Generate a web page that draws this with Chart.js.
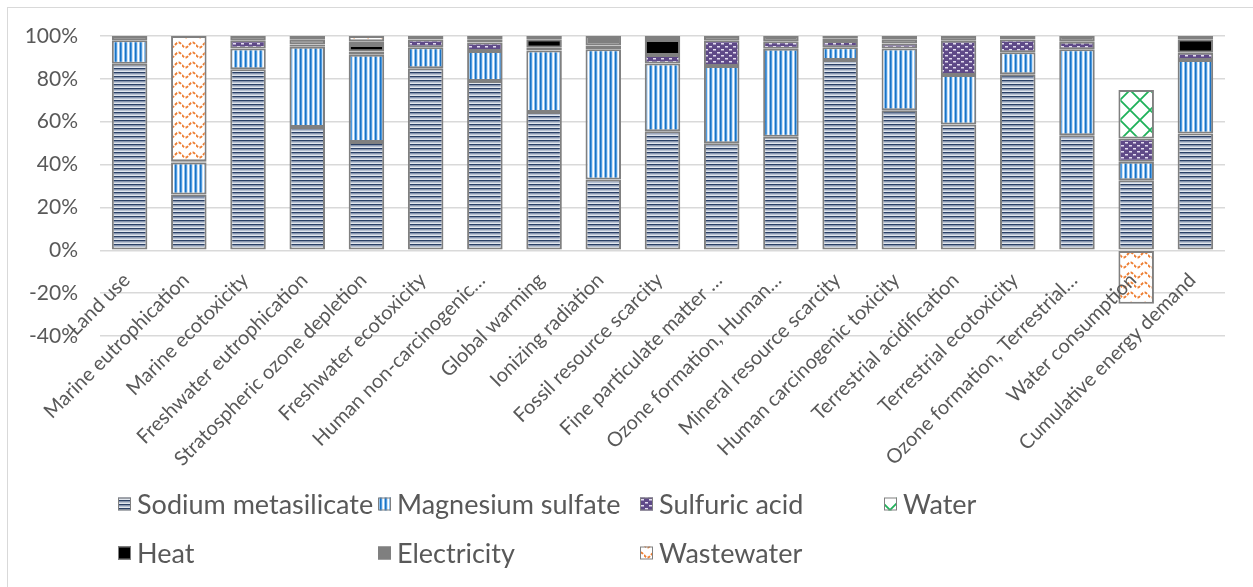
<!DOCTYPE html>
<html>
<head>
<meta charset="utf-8">
<script src="https://cdn.jsdelivr.net/npm/chart.js@4.4.1/dist/chart.umd.min.js"></script>
<style>
  html, body { margin: 0; padding: 0; background: #fff; overflow: hidden; }
  #wrap { width: 1253px; height: 587px; }
</style>
</head>
<body>
<div id="wrap"><canvas id="chart" width="1253" height="587"></canvas></div>
<script>
const categories = [
  "Land use", "Marine eutrophication", "Marine ecotoxicity", "Freshwater eutrophication",
  "Stratospheric ozone depletion", "Freshwater ecotoxicity", "Human non-carcinogenic…",
  "Global warming", "Ionizing radiation", "Fossil resource scarcity", "Fine particulate matter …",
  "Ozone formation, Human…", "Mineral resource scarcity", "Human carcinogenic toxicity",
  "Terrestrial acidification", "Terrestrial ecotoxicity", "Ozone formation, Terrestrial…",
  "Water consumption", "Cumulative energy demand"
];

// shares in %
const sodiumMetasilicate = [87, 26, 84.5, 57.5, 50.5, 85, 79, 64.5, 33, 55.6, 50, 53, 88.8, 65.4, 58.7, 82.2, 53.7, 32.7, 54.5];
const magnesiumSulfate = [11, 15, 9.7, 37.5, 40.8, 9.7, 14, 28.7, 60.8, 31.6, 36, 41, 5.9, 28.8, 23.1, 10.2, 40.1, 8.6, 34.3];
const sulfuricAcid = [null, null, 3.8, 1, 1.5, 3.7, 4, 1.3, 1.8, 3.9, 12, 3.5, 3, 2.3, 16, 6, 3.5, 10.9, 3.4];
const water = [null, null, null, null, null, null, null, null, null, null, null, null, null, null, null, null, null, 22.6, null];
const heat = [null, null, null, null, 3, null, null, 4, null, 7, null, null, null, null, null, null, null, null, 6.3];
const electricity = [2, 0.5, 2, 2.5, 1.8, 1.6, 1.5, 1.5, 4.4, 1.9, 2, 2.5, 1.3, 2, 2.2, 1.6, 2.7, null, 1.5];
const wastewater = [null, 58.5, null, 1.5, 2.4, null, 1.5, null, null, null, null, null, 1, 1.5, null, null, null, -25, null];

const yTicks = [-40, -20, 0, 20, 40, 60, 80, 100];

const canvas = document.getElementById("chart");
const ctx = canvas.getContext("2d");

function makePattern(w, h, paint) {
  const c = document.createElement("canvas");
  c.width = w;
  c.height = h;
  paint(c.getContext("2d"), w, h);
  return ctx.createPattern(c, "repeat");
}

const patHorizontal = makePattern(4, 4, (g) => {
  g.fillStyle = "#e2e7ee"; g.fillRect(0, 0, 4, 4);
  g.fillStyle = "#2a4066"; g.fillRect(0, 0, 4, 1.5);
  g.fillStyle = "#8a9ab3"; g.fillRect(0, 1.5, 4, 1);
});

const patVertical = makePattern(5, 5, (g) => {
  const cols = ["#1a72c4", "#4d9be0", "#cfe3f6", "#ffffff", "#8fc0ec"];
  cols.forEach((col, i) => { g.fillStyle = col; g.fillRect(i, 0, 1, 5); });
});

const patDots = makePattern(8, 6, (g) => {
  g.fillStyle = "#5f4a88"; g.fillRect(0, 0, 8, 6);
  g.fillStyle = "#e4ddf0";
  g.fillRect(1, 1, 3, 1.5);
  g.fillRect(5, 4, 3, 1.5);
});

const patLattice = makePattern(20, 20, (g) => {
  g.fillStyle = "#ffffff"; g.fillRect(0, 0, 20, 20);
  g.strokeStyle = "#1fb15a"; g.lineWidth = 1.8;
  g.beginPath();
  g.moveTo(0, 0); g.lineTo(20, 20);
  g.moveTo(20, 0); g.lineTo(0, 20);
  g.stroke();
});

const patWave = makePattern(14, 10, (g) => {
  g.fillStyle = "#ffffff"; g.fillRect(0, 0, 14, 10);
  g.strokeStyle = "#ed7d31"; g.lineWidth = 2;
  g.setLineDash([3, 1.5]);
  g.beginPath();
  for (let x = 0; x <= 14; x++) {
    const y = 5 + 2.6 * Math.sin((x / 14) * Math.PI * 2);
    if (x === 0) g.moveTo(x, y); else g.lineTo(x, y);
  }
  g.stroke();
});

const seriesNames = ["Sodium metasilicate", "Magnesium sulfate", "Sulfuric acid", "Water", "Heat", "Electricity", "Wastewater"];
const seriesValues = [sodiumMetasilicate, magnesiumSulfate, sulfuricAcid, water, heat, electricity, wastewater];
const seriesFills = [patHorizontal, patVertical, patDots, patLattice, "#000000", "#7f7f7f", patWave];

const datasets = seriesNames.map((name, i) => ({
  label: name,
  data: seriesValues[i],
  backgroundColor: seriesFills[i],
  borderColor: "#808080",
  borderWidth: 2,
  borderSkipped: false,
  barPercentage: 0.6,
  categoryPercentage: 1,
}));

const FONT = "Lato, 'Open Sans', sans-serif";
const TEXT = "#595959";

// grid legend like the original: 4 columns, 2 rows
const gridLegend = {
  id: "gridLegend",
  beforeDraw(chart) {
    const g = chart.ctx;
    g.save();
    g.strokeStyle = "#d9d9d9";
    g.lineWidth = 1;
    g.strokeRect(7.5, 7.5, 1400, 800);
    g.restore();
  },
  afterDraw(chart, args, opts) {
    const g = chart.ctx;
    g.save();
    g.font = `${opts.fontSize}px ${FONT}`;
    g.textBaseline = "middle";
    chart.data.datasets.forEach((ds, i) => {
      const col = i % 4, row = Math.floor(i / 4);
      const x = opts.columns[col];
      const y = opts.rows[row];
      const b = opts.box;
      g.fillStyle = ds.backgroundColor;
      g.fillRect(x, y - b / 2, b, b);
      g.strokeStyle = "#808080";
      g.lineWidth = 1;
      g.strokeRect(x + 0.5, y - b / 2 + 0.5, b - 1, b - 1);
      g.fillStyle = TEXT;
      g.fillText(ds.label, x + b + 6, y + 1);
    });
    g.restore();
  },
};

new Chart(ctx, {
  type: "bar",
  data: { labels: categories, datasets },
  options: {
    responsive: false,
    animation: false,
    layout: { padding: { left: 7, top: 36, right: 28, bottom: 251 } },
    plugins: {
      legend: { display: false },
      tooltip: { enabled: false },
      gridLegend: { columns: [118, 378, 640, 884], rows: [504, 553], box: 13, fontSize: 27 },
    },
    scales: {
      x: {
        stacked: true,
        position: { y: 0 },
        grid: { display: false },
        border: { display: false },
        ticks: {
          z: 1,
          autoSkip: false,
          minRotation: 45,
          maxRotation: 45,
          padding: 10,
          labelOffset: -3,
          color: TEXT,
          font: { family: FONT, size: 20 },
        },
      },
      y: {
        stacked: true,
        min: -40,
        max: 100,
        afterFit: (s) => { s.width = 93; },
        afterBuildTicks: (s) => { s.ticks = yTicks.map((v) => ({ value: v })); },
        grid: { color: "#d9d9d9", lineWidth: 1.5, drawTicks: false },
        border: { display: false },
        ticks: {
          padding: 22,
          color: TEXT,
          font: { family: FONT, size: 21 },
          callback: (v) => v + "%",
        },
      },
    },
  },
  plugins: [gridLegend],
});
</script>
</body>
</html>
